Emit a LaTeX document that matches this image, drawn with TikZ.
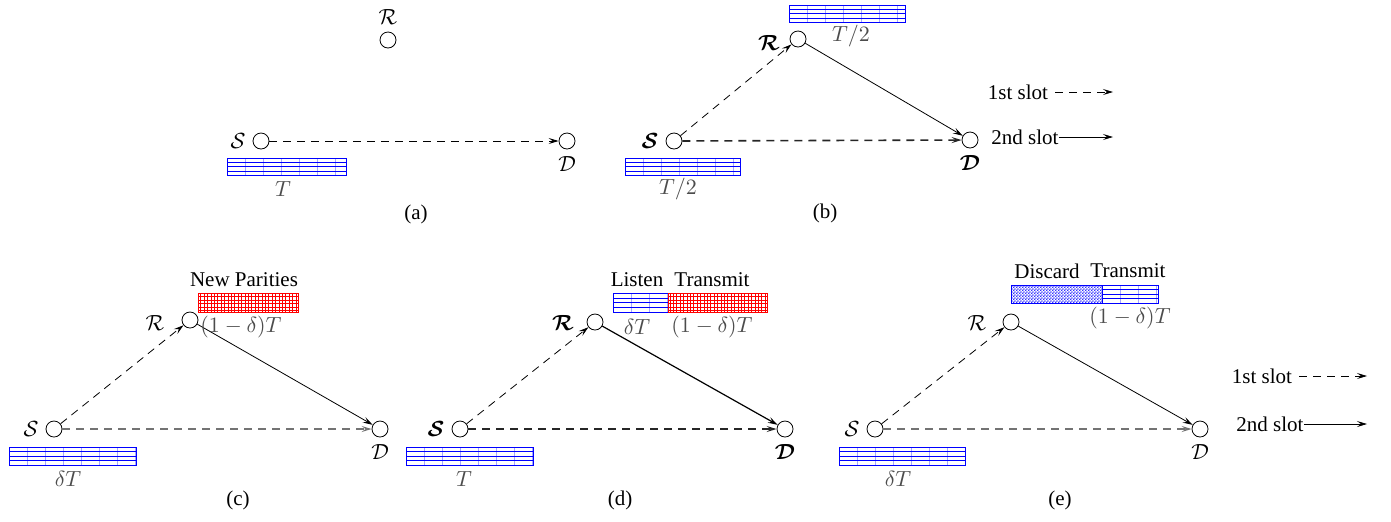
\documentclass[tikz,border=0pt]{standalone}
\usepackage{amsmath}
\usepackage{amssymb}
\usepackage{fontspec}
\setmainfont{Liberation Serif}
\usetikzlibrary{positioning, arrows.meta, patterns}

\pgfdeclarepatternformonly{fine grid}{\pgfqpoint{-0.2pt}{-0.2pt}}{\pgfqpoint{1.9pt}{1.9pt}}{\pgfqpoint{1.7pt}{1.7pt}}{%
  \pgfsetlinewidth{0.28pt}
  \pgfpathmoveto{\pgfqpoint{0pt}{0pt}}\pgfpathlineto{\pgfqpoint{1.7pt}{0pt}}
  \pgfpathmoveto{\pgfqpoint{0pt}{0pt}}\pgfpathlineto{\pgfqpoint{0pt}{1.7pt}}
  \pgfusepath{stroke}}
\pgfdeclarepatternformonly{fine checks}{\pgfqpoint{0pt}{0pt}}{\pgfqpoint{1.4pt}{1.4pt}}{\pgfqpoint{1.4pt}{1.4pt}}{%
  \pgfpathrectangle{\pgfqpoint{0pt}{0pt}}{\pgfqpoint{0.7pt}{0.7pt}}
  \pgfpathrectangle{\pgfqpoint{0.7pt}{0.7pt}}{\pgfqpoint{0.7pt}{0.7pt}}
  \pgfusepath{fill}}

\tikzset{
  nd/.style={circle, draw, minimum size=8pt, inner sep=0pt},
  dim/.style={text=black!70},
  arrow/.style={-{Stealth[length=5pt,width=3pt,inset=2pt]}},
  first/.style={arrow, dashed, dash pattern=on 4pt off 3pt},
  second/.style={arrow},
  direct/.style={arrow, dashed, dash pattern=on 4pt off 3pt, thick}
}

% blue block with stripes
\newcommand{\slotbar}[4]{%
  \begin{scope}
    \clip (#1,#2) rectangle (#3,#4);
    \foreach \k in {1,...,9} \draw[blue!35, line width=0.3pt] ({#1+\k*18},#2) -- ({#1+\k*18},#4);
  \end{scope}
  \draw[blue, line width=0.4pt] (#1,{#2+0.27*(#4-#2)}) -- (#3,{#2+0.27*(#4-#2)});
  \draw[blue, line width=0.6pt] (#1,{#2+0.52*(#4-#2)}) -- (#3,{#2+0.52*(#4-#2)});
  \draw[blue, line width=0.4pt] (#1,{#2+0.77*(#4-#2)}) -- (#3,{#2+0.77*(#4-#2)});
  \draw[blue, line width=0.5pt] (#1,#2) rectangle (#3,#4);
}
% red block (new parities)
\newcommand{\paritybar}[4]{%
  \fill[pattern=fine grid, pattern color=red] (#1,#2) rectangle (#3,#4);
  \draw[red, line width=0.5pt] (#1,#2) rectangle (#3,#4);
}
% hatched block (discarded)
\newcommand{\discardbar}[4]{%
  \fill[pattern=fine checks, pattern color=blue!80] (#1,#2) rectangle (#3,#4);
  \draw[blue, line width=0.5pt] (#1,#2) rectangle (#3,#4);
}

\begin{document}
\begin{tikzpicture}[x=0.5pt, y=-0.5pt, font=\fontsize{10.5}{12}\selectfont]
  \useasboundingbox (0,0) rectangle (1391,521);

  % (a) direct link
  \node[nd] (aR) at (388,40) {};
  \node[nd] (aS) at (261,141) {};
  \node[nd] (aD) at (567,141) {};
  \node[above=0pt of aR] (aRl) {$\mathcal{R}$};
  \node[left=0pt of aS] (aSl) {$\mathcal{S}$};
  \node[below=0pt of aD] (aDl) {$\mathcal{D}$};
  \draw[first] (aS) -- (aD);
  \slotbar{227}{158}{346}{175}
  \node[dim] (aT) at (283,189) {$T$};
  \node (acap) at (416,214) {(a)};

  % (b) half and half
  \node[nd] (bR) at (798,39) {};
  \node[nd] (bS) at (674,141) {};
  \node[nd] (bD) at (970,140) {};
  \node (bRl) at (769,43) {$\boldsymbol{\mathcal{R}}$};
  \node[left=0pt of bS] (bSl) {$\boldsymbol{\mathcal{S}}$};
  \node[below=0pt of bD] (bDl) {$\boldsymbol{\mathcal{D}}$};
  \draw[first] (bS) -- (bR);
  \draw[second] (bR) -- (bD);
  \draw[direct, black!85] (bS) -- (bD);
  \slotbar{789}{5}{905}{22}
  \node[dim] (bT1) at (851,36) {$T/2$};
  \slotbar{625}{158}{740}{175}
  \node[dim] (bT2) at (678,189) {$T/2$};
  \node (bcap) at (825,213) {(b)};

  % legend, top
  \node (bfirst) at (1018,92) {1st slot};
  \coordinate (bfirstend) at (1113,92);
  \draw[first] (bfirst) -- (bfirstend);
  \node[inner sep=0pt] (bsecond) at (1025,137) {2nd slot};
  \coordinate (bsecondend) at (1113,137);
  \draw[second] (bsecond.east) -- (bsecondend);

  % (c) new parities
  \node[nd] (cR) at (190,320) {};
  \node[nd] (cS) at (54,429) {};
  \node[nd] (cD) at (380,429) {};
  \node (cRl) at (155,323) {$\mathcal{R}$};
  \node[left=0pt of cS] (cSl) {$\mathcal{S}$};
  \node[below=0pt of cD] (cDl) {$\mathcal{D}$};
  \draw[first] (cS) -- (cR);
  \draw[second] (cR) -- (cD);
  \draw[direct, black!55] (cS) -- (cD);
  \paritybar{198}{293}{298}{312}
  \node (cnew) at (244,280) {New Parities};
  \node[dim] (cpar) at (241,327) {$(1-\delta)T$};
  \slotbar{9}{447}{136}{465}
  \node[dim] (cdT) at (68,479) {$\delta T$};
  \node (ccap) at (238,500) {(c)};

  % (d) listen then transmit
  \node[nd] (dR) at (595,322) {};
  \node[nd] (dS) at (460,429) {};
  \node[nd] (dD) at (785,429) {};
  \node (dRl) at (563,323) {$\boldsymbol{\mathcal{R}}$};
  \node[left=0pt of dS] (dSl) {$\boldsymbol{\mathcal{S}}$};
  \node[below=0pt of dD] (dDl) {$\boldsymbol{\mathcal{D}}$};
  \draw[first] (dS) -- (dR);
  \draw[second, semithick] (dR) -- (dD);
  \draw[direct, black!85] (dS) -- (dD);
  \slotbar{613}{293}{668}{312}
  \paritybar{668}{293}{767}{312}
  \node (dlisten) at (637,280) {Listen};
  \node (dtrans) at (712,280) {Transmit};
  \node[dim] (ddT) at (637,327) {$\delta T$};
  \node[dim] (dpar) at (712,327) {$(1-\delta)T$};
  \slotbar{406}{447}{533}{465}
  \node[dim] (dT) at (464,479) {$T$};
  \node (dcap) at (620,500) {(d)};

  % (e) discard then transmit
  \node[nd] (eR) at (1011,322) {};
  \node[nd] (eS) at (875,429) {};
  \node[nd] (eD) at (1200,429) {};
  \node (eRl) at (977,323) {$\mathcal{R}$};
  \node[left=0pt of eS] (eSl) {$\mathcal{S}$};
  \node[below=0pt of eD] (eDl) {$\mathcal{D}$};
  \draw[first] (eS) -- (eR);
  \draw[second] (eR) -- (eD);
  \draw[direct, black!55] (eS) -- (eD);
  \discardbar{1011}{285}{1102}{303}
  \slotbar{1102}{285}{1158}{303}
  \node (ediscard) at (1047,271) {Discard};
  \node (etrans) at (1128,271) {Transmit};
  \node[dim] (epar) at (1130,318) {$(1-\delta)T$};
  \slotbar{839}{447}{965}{465}
  \node[dim] (edT) at (898,479) {$\delta T$};
  \node (ecap) at (1060,500) {(e)};

  % legend, bottom
  \node (efirst) at (1262,376) {1st slot};
  \coordinate (efirstend) at (1367,376);
  \draw[first] (efirst) -- (efirstend);
  \node[inner sep=0pt] (esecond) at (1270,424) {2nd slot};
  \coordinate (esecondend) at (1367,424);
  \draw[second] (esecond.east) -- (esecondend);
\end{tikzpicture}
\end{document}
